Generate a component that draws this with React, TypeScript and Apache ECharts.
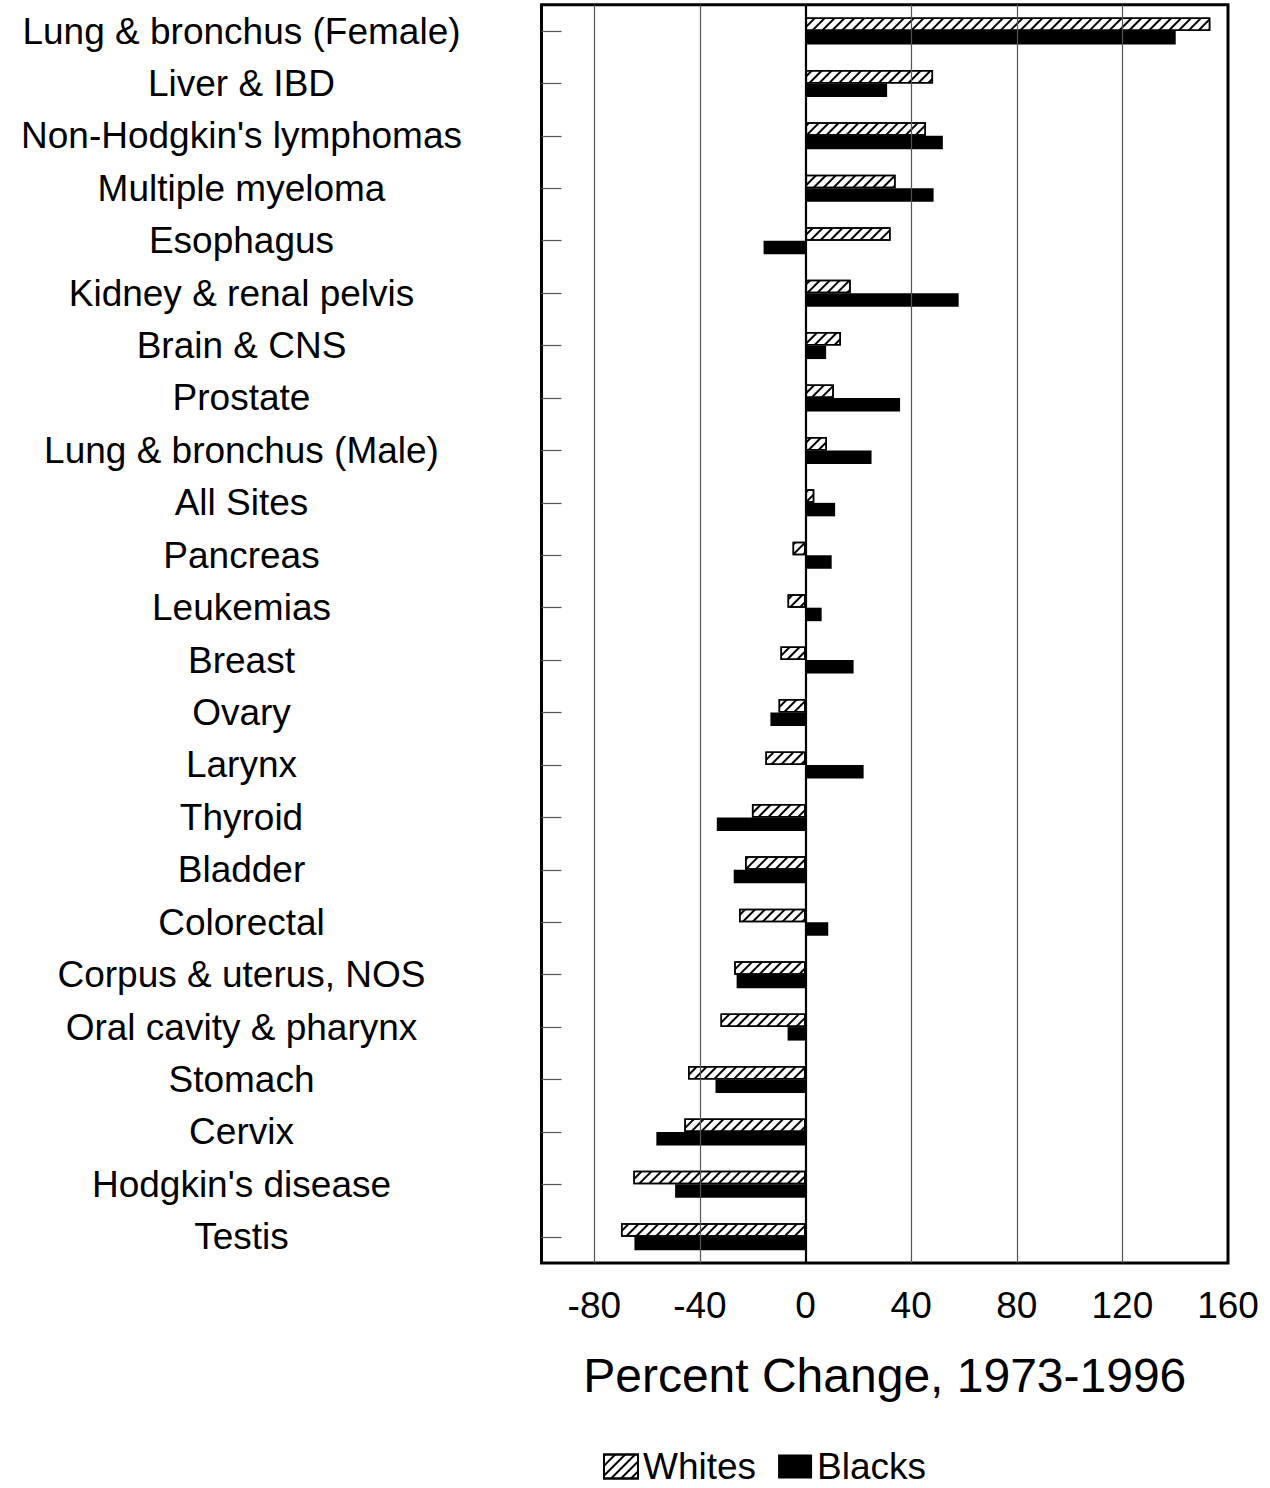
import React, { useEffect, useRef } from "react";
import * as echarts from "echarts";

const categories = [
  "Lung & bronchus (Female)",
  "Liver & IBD",
  "Non-Hodgkin's lymphomas",
  "Multiple myeloma",
  "Esophagus",
  "Kidney & renal pelvis",
  "Brain & CNS",
  "Prostate",
  "Lung & bronchus (Male)",
  "All Sites",
  "Pancreas",
  "Leukemias",
  "Breast",
  "Ovary",
  "Larynx",
  "Thyroid",
  "Bladder",
  "Colorectal",
  "Corpus & uterus, NOS",
  "Oral cavity & pharynx",
  "Stomach",
  "Cervix",
  "Hodgkin's disease",
  "Testis",
];

const whites = [
  153.3, 48.3, 45.6, 34.1, 32.2, 17.1, 13.4, 10.7, 8.1, 3.3, -4.9, -6.8,
  -9.5, -10.2, -15.2, -20.3, -22.9, -25.2, -27.0, -32.2, -44.5, -45.9, -65.2,
  -69.9,
];

const blacks = [
  140.2, 30.9, 52.0, 48.5, -15.9, 58.0, 7.8, 35.8, 25.0, 11.2, 9.9, 6.1,
  18.2, -13.3, 22.0, -33.6, -27.2, 8.6, -26.1, -6.8, -34.1, -56.5, -49.4,
  -64.8,
];

const xTickLabels = [-80, -40, 0, 40, 80, 120, 160];
const gridValues = [-80, -40, 40, 80, 120];
const seriesNames = ["Whites", "Blacks"];
const axisTitle = "Percent Change, 1973-1996";

const FONT = "'Liberation Sans', Arial, sans-serif";

export default function App() {
  const ref = useRef<HTMLDivElement>(null);

  useEffect(() => {
    document.body.style.margin = "0";
    if (!ref.current) return;
    const chart = echarts.init(ref.current, null, { renderer: "svg" });

    const hatch = {
      symbol: "rect",
      symbolSize: 1,
      color: "#000",
      backgroundColor: "#fff",
      dashArrayX: [1, 0],
      dashArrayY: [1.2, 4.6],
      rotation: -Math.PI / 4,
    };

    chart.setOption({
      animation: false,
      backgroundColor: "#fff",
      textStyle: { fontFamily: FONT },
      grid: {
        left: 541.5,
        right: 42,
        top: 4.8,
        bottom: 225,
        show: true,
        borderColor: "#000",
        borderWidth: 3,
        backgroundColor: "transparent",
      },
      legend: {
        data: seriesNames,
        left: 603,
        top: 1448,
        icon: "rect",
        itemWidth: 34,
        itemHeight: 24,
        itemGap: 22,
        padding: 0,
        textStyle: {
          fontSize: 37,
          lineHeight: 34,
          color: "#000",
          fontFamily: FONT,
        },
      },
      xAxis: {
        type: "value",
        min: -100,
        max: 160,
        interval: 20,
        axisLine: { show: false },
        axisTick: { show: false },
        splitLine: { show: false },
        axisLabel: {
          fontSize: 37,
          color: "#000",
          fontFamily: FONT,
          margin: 24,
          showMinLabel: true,
          showMaxLabel: true,
          formatter: (v: number) =>
            xTickLabels.includes(v) ? String(v) : "",
        },
        name: axisTitle,
        nameLocation: "middle",
        nameGap: 88,
        nameTextStyle: { fontSize: 48, color: "#000", fontFamily: FONT },
      },
      yAxis: {
        type: "category",
        data: categories,
        inverse: true,
        axisLine: { show: false, onZero: false },
        axisTick: {
          show: true,
          inside: true,
          length: 20,
          alignWithLabel: true,
          lineStyle: { color: "#555", width: 1.2 },
        },
        axisLabel: {
          fontSize: 37,
          color: "#000",
          fontFamily: FONT,
          align: "center",
          margin: 300,
        },
        splitLine: { show: false },
      },
      series: [
        {
          name: "grid",
          type: "line",
          data: [],
          z: 1,
          silent: true,
          markLine: {
            silent: true,
            symbol: "none",
            label: { show: false },
            lineStyle: { color: "#555", width: 1.2, type: "solid" },
            data: [
              ...gridValues.map((v) => ({ xAxis: v })),
              { xAxis: 0, lineStyle: { color: "#000", width: 2.2, type: "solid" } },
            ],
          },
        },
        {
          name: seriesNames[0],
          type: "bar",
          data: whites,
          z: 3,
          barWidth: 13.5,
          barGap: "0%",
          itemStyle: {
            color: "#fff",
            borderColor: "#000",
            borderWidth: 1.5,
            decal: hatch,
          },
        },
        {
          name: seriesNames[1],
          type: "bar",
          data: blacks,
          z: 3,
          barWidth: 13.5,
          barGap: "0%",
          itemStyle: { color: "#000" },
        },
      ],
    });

    return () => chart.dispose();
  }, []);

  return <div ref={ref} style={{ width: 1270, height: 1488 }} />;
}
